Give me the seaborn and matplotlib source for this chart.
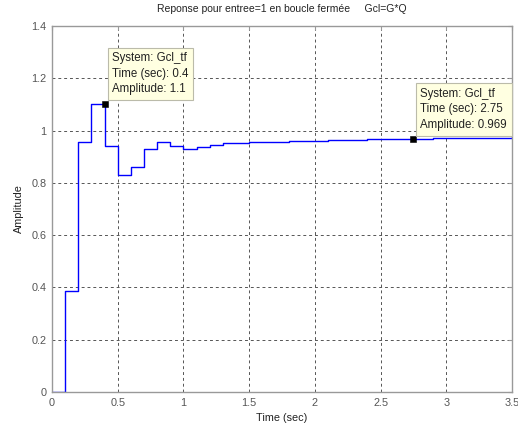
import matplotlib
matplotlib.use("Agg")
import matplotlib.pyplot as plt
import seaborn as sns
import pandas as pd
import numpy as np

# Data
time_sec = [0.0, 0.1, 0.2, 0.3, 0.4, 0.5, 0.6, 0.7, 0.8, 0.9,
            1.0, 1.1, 1.2, 1.3, 1.4, 1.5, 1.6, 1.7, 1.8, 1.9,
            2.0, 2.1, 2.2, 2.3, 2.4, 2.5, 2.6, 2.7, 2.8, 2.9,
            3.0, 3.1, 3.2, 3.3, 3.4, 3.5]
amplitude = [0.0, 0.385, 0.955, 1.10, 0.942, 0.830, 0.862, 0.928, 0.955, 0.942,
             0.931, 0.937, 0.946, 0.953, 0.954, 0.955, 0.956, 0.958, 0.959, 0.960,
             0.961, 0.963, 0.964, 0.965, 0.966, 0.967, 0.968, 0.969, 0.969, 0.970,
             0.970, 0.971, 0.971, 0.972, 0.973, 0.974]
tip_times = [0.4, 2.75]
tip_amps = [1.1, 0.969]
tip_labels = ["System: Gcl_tf\nTime (sec): 0.4\nAmplitude: 1.1",
              "System: Gcl_tf\nTime (sec): 2.75\nAmplitude: 0.969"]
x_ticks = [0, 0.5, 1, 1.5, 2, 2.5, 3, 3.5]
x_tick_labels = ["0", "0.5", "1", "1.5", "2", "2.5", "3", "3.5"]
y_ticks = [0, 0.2, 0.4, 0.6, 0.8, 1.0, 1.2, 1.4]
y_tick_labels = ["0", "0.2", "0.4", "0.6", "0.8", "1", "1.2", "1.4"]

sns.set_style("white")
plt.rcParams["font.family"] = ["Liberation Sans", "DejaVu Sans"]

df = pd.DataFrame({"Time (sec)": time_sec, "Amplitude": amplitude})

fig = plt.figure(figsize=(5.18, 4.32), dpi=100)
fig.patch.set_facecolor("white")
ax = fig.add_axes([52 / 518, 1 - 392 / 432, 460 / 518, 366 / 432])

sns.lineplot(data=df, x="Time (sec)", y="Amplitude", ax=ax, color="#0000FF",
             linewidth=1.0, drawstyle="steps-post", estimator=None)

ax.set_xlim(0, 3.5)
ax.set_ylim(0, 1.4)
ax.set_xticks(x_ticks)
ax.set_xticklabels(x_tick_labels)
ax.set_yticks(y_ticks)
ax.set_yticklabels(y_tick_labels)
ax.grid(True, linestyle=(0, (3, 3)), color="#555555", linewidth=0.7)
for s in ax.spines.values():
    s.set_color("#999999")
    s.set_linewidth(1.0)
ax.tick_params(axis="both", labelsize=7.8, labelcolor="#555555", colors="#999999",
               direction="in", length=3, top=True, right=True, pad=4)
ax.set_xlabel("Time (sec)", fontsize=7.8, color="#222222", labelpad=4)
ax.set_ylabel("Amplitude", fontsize=7.8, color="#222222", labelpad=5)
ax.set_title("Reponse pour entree=1 en boucle fermée     Gcl=G*Q", fontsize=7.5,
             color="#222222", pad=10)

# Data tips
sns.scatterplot(x=tip_times, y=tip_amps, ax=ax, marker="s", s=25, color="black",
                edgecolor="black", zorder=5)
box_offsets = [(5.5, 6.5), (5, 5.5)]
for t, a, lab, off in zip(tip_times, tip_amps, tip_labels, box_offsets):
    ax.annotate(lab, xy=(t, a), xytext=off, textcoords="offset points",
                ha="left", va="bottom", fontsize=8.3, color="#222222",
                linespacing=1.4,
                bbox=dict(boxstyle="square,pad=0.4", fc="#FFFFE1", ec="#BBBBAA", lw=0.8),
                zorder=6)

fig.savefig("out.png", dpi=100, facecolor="white")
